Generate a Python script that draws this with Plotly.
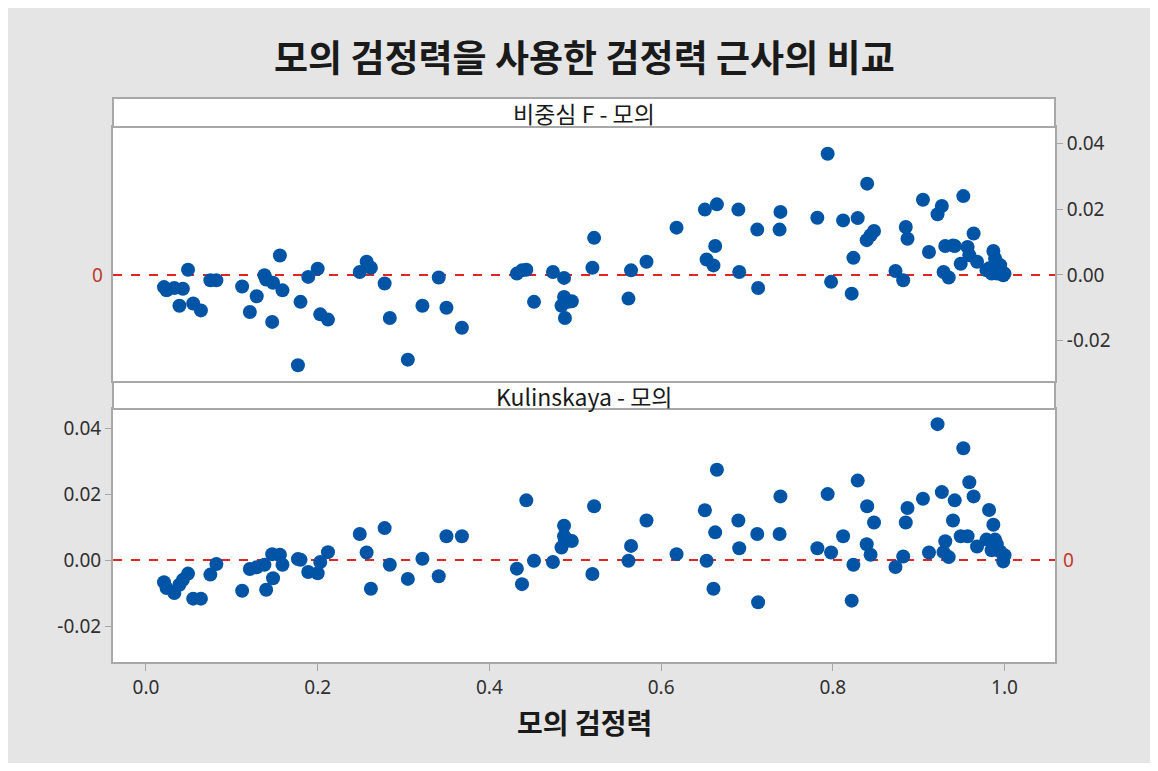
import plotly.graph_objects as go
from plotly.subplots import make_subplots

# Simulated power (shared x) and power-approximation differences
sim_power = [0.021, 0.024, 0.033, 0.039, 0.043, 0.049, 0.055, 0.064, 0.075, 0.082,
             0.112, 0.121, 0.129, 0.138, 0.140, 0.147, 0.148, 0.156, 0.159, 0.177,
             0.180, 0.189, 0.200, 0.203, 0.212, 0.249, 0.257, 0.262, 0.278, 0.284,
             0.305, 0.322, 0.341, 0.350, 0.368, 0.432, 0.438, 0.443, 0.452, 0.474,
             0.484, 0.487, 0.487, 0.488, 0.492, 0.496, 0.520, 0.522, 0.562, 0.565,
             0.583, 0.618, 0.651, 0.653, 0.661, 0.663, 0.665, 0.690, 0.691, 0.712,
             0.713, 0.738, 0.739, 0.782, 0.794, 0.798, 0.812, 0.822, 0.824, 0.829,
             0.840, 0.8395, 0.844, 0.848, 0.873, 0.882, 0.885, 0.887, 0.905, 0.912,
             0.922, 0.927, 0.929, 0.931, 0.935, 0.942, 0.940, 0.949, 0.952, 0.957,
             0.959, 0.964, 0.968, 0.979, 0.982, 0.985, 0.987, 0.989, 0.991, 0.995,
             0.9985, 1.000]

diff_ncf = [-0.0037, -0.0047, -0.0040, -0.0094, -0.0042, 0.0016, -0.0087, -0.0108, -0.0016, -0.0016,
            -0.0035, -0.0113, -0.0065, -0.0001, -0.0014, -0.0143, -0.0024, 0.0059, -0.0047, -0.0275,
            -0.0082, -0.0006, 0.0019, -0.0120, -0.0136, 0.0009, 0.0040, 0.0022, -0.0026, -0.0131,
            -0.0258, -0.0094, -0.0008, -0.0100, -0.0161, 0.0004, 0.0014, 0.0016, -0.0082, 0.0009,
            -0.0094, -0.0009, -0.0067, -0.0131, -0.0082, -0.0080, 0.0022, 0.0113, -0.0072, 0.0014,
            0.0040, 0.0144, 0.0199, 0.0047, 0.0029, 0.0088, 0.0215, 0.0199, 0.0009, 0.0138,
            -0.0040, 0.0138, 0.0192, 0.0174, 0.0369, -0.0021, 0.0166, -0.0057, 0.0052, 0.0173,
            0.0278, 0.0106, 0.0121, 0.0134, 0.0012, -0.0016, 0.0146, 0.0110, 0.0229, 0.0070,
            0.0185, 0.0210, 0.0009, 0.0088, -0.0008, 0.0088, 0.0090, 0.0034, 0.0240, 0.0085,
            0.0060, 0.0126, 0.0040, 0.0014, 0.0020, 0.0004, 0.0073, 0.0050, 0.0004, 0.0030,
            -0.0001, 0.0004]

diff_kul = [-0.0067, -0.0085, -0.0100, -0.0075, -0.0060, -0.0041, -0.0117, -0.0117, -0.0044, -0.0012,
            -0.0093, -0.0027, -0.0022, -0.0014, -0.0090, 0.0018, -0.0055, 0.0016, -0.0014, 0.0003,
            0.0001, -0.0036, -0.0040, -0.0006, 0.0024, 0.0079, 0.0023, -0.0087, 0.0097, -0.0014,
            -0.0057, 0.0004, -0.0049, 0.0072, 0.0072, -0.0026, -0.0073, 0.0181, -0.0002, -0.0006,
            0.0038, 0.0104, 0.0072, 0.0060, 0.0060, 0.0058, -0.0042, 0.0163, -0.0002, 0.0043,
            0.0120, 0.0018, 0.0151, -0.0002, -0.0087, 0.0084, 0.0274, 0.0120, 0.0036, 0.0079,
            -0.0128, 0.0079, 0.0193, 0.0036, 0.0200, 0.0023, 0.0072, -0.0123, -0.0014, 0.0241,
            0.0163, 0.0048, 0.0016, 0.0114, -0.0021, 0.0011, 0.0114, 0.0158, 0.0186, 0.0023,
            0.0412, 0.0206, 0.0024, 0.0057, 0.0009, 0.0181, 0.0120, 0.0072, 0.0339, 0.0072,
            0.0236, 0.0193, 0.0041, 0.0062, 0.0152, 0.0030, 0.0107, 0.0062, 0.0048, 0.0026,
            -0.0004, 0.0015]

x_ticks = [0.0, 0.2, 0.4, 0.6, 0.8, 1.0]
y_ticks = [-0.02, 0.00, 0.02, 0.04]
panel_titles = ["비중심 F - 모의", "Kulinskaya - 모의"]
title_text = "모의 검정력을 사용한 검정력 근사의 비교"
x_title = "모의 검정력"

# page is offset by the 8px body margin
OFF = 8
W, H = 1158 - 2 * OFF, 771 - 2 * OFF
L, T = 113 - OFF, 98 - OFF
R = W - (1055 - OFF)
B = H - (662 - OFF)
ph = H - T - B
def py(pix):
    return (H - B - (pix - OFF)) / ph

top_dom = [py(381), py(127)]
bot_dom = [0.0, py(409)]

fig = make_subplots(rows=2, cols=1, shared_xaxes=True)

marker = dict(color="#0054a6", size=14, line=dict(width=0))
fig.add_trace(go.Scatter(x=sim_power, y=diff_ncf, mode="markers", marker=marker,
                         showlegend=False, hoverinfo="x+y"), row=1, col=1)
fig.add_trace(go.Scatter(x=sim_power, y=diff_kul, mode="markers", marker=marker,
                         showlegend=False, hoverinfo="x+y"), row=2, col=1)

frame = "#a8a8a8"
tickfont = dict(family="Noto Sans, DejaVu Sans, sans-serif", size=19, color="#303030")

xcommon = dict(range=[-0.0384, 1.0588], showgrid=False, zeroline=False,
               showline=True, linecolor=frame, linewidth=2, mirror=True)
fig.update_xaxes(**xcommon)
fig.update_layout(
    xaxis=dict(domain=[0, 1], showticklabels=False, ticks=""),
    xaxis2=dict(domain=[0, 1], tickvals=x_ticks, ticktext=[f"{v:.1f}" for v in x_ticks],
                ticks="outside", ticklen=7, tickcolor=frame, tickwidth=1,
                tickfont=tickfont),
    yaxis=dict(domain=top_dom, range=[-0.0323, 0.04505], side="right",
               tickvals=y_ticks, ticktext=[f"{v:.2f}" for v in y_ticks],
               ticks="outside", ticklen=6, tickcolor=frame, tickfont=tickfont,
               showgrid=False, zeroline=False, showline=True, linecolor=frame,
               linewidth=2, mirror=True),
    yaxis2=dict(domain=bot_dom, range=[-0.0309, 0.0458], side="left",
                tickvals=y_ticks, ticktext=[f"{v:.2f}" for v in y_ticks],
                ticks="outside", ticklen=6, tickcolor=frame, tickfont=tickfont,
                showgrid=False, zeroline=False, showline=True, linecolor=frame,
                linewidth=2, mirror=True),
)

# Reference lines at zero
for yr in ["y", "y2"]:
    fig.add_shape(type="line", xref="paper", x0=0, x1=1, yref=yr, y0=0, y1=0,
                  line=dict(color="#e0261f", width=2, dash="dash"), layer="below")

# Panel strips
strips = [(py(127), py(98), panel_titles[0]), (py(409), py(382), panel_titles[1])]
for y0, y1, txt in strips:
    fig.add_shape(type="rect", xref="paper", yref="paper", x0=0, x1=1, y0=y0, y1=y1,
                  fillcolor="white", line=dict(color=frame, width=2))
    fig.add_annotation(text=txt, xref="paper", yref="paper", x=0.5, y=(y0 + y1) / 2,
                       showarrow=False, xanchor="center", yanchor="middle",
                       font=dict(family="Noto Sans CJK KR, Noto Sans, sans-serif",
                                 size=23, color="#1a1a1a"))

# Red zero labels on the opposite sides
fig.add_annotation(text="0", xref="paper", yref="y", x=0, y=0, xanchor="right",
                   yanchor="middle", xshift=-8, showarrow=False,
                   font=dict(family="Noto Sans, sans-serif", size=19, color="#c0392b"))
fig.add_annotation(text="0", xref="paper", yref="y2", x=1, y=0, xanchor="left",
                   yanchor="middle", xshift=6, showarrow=False,
                   font=dict(family="Noto Sans, sans-serif", size=19, color="#c0392b"))

# Title and x-axis title
fig.add_annotation(text=f"<b>{title_text}</b>", xref="paper", yref="paper",
                   x=0.5, y=py(56), xanchor="center", yanchor="middle", showarrow=False,
                   font=dict(family="Noto Sans CJK KR, sans-serif", size=37, color="#1a1a1a"))
fig.add_annotation(text=f"<b>{x_title}</b>", xref="paper", yref="paper",
                   x=0.5, y=py(722), xanchor="center", yanchor="middle", showarrow=False,
                   font=dict(family="Noto Sans CJK KR, sans-serif", size=28, color="#1a1a1a"))

fig.update_layout(width=W, height=H, margin=dict(l=L, r=R, t=T, b=B),
                  paper_bgcolor="#e5e5e5", plot_bgcolor="white", showlegend=False)

fig.write_html("out.html")
